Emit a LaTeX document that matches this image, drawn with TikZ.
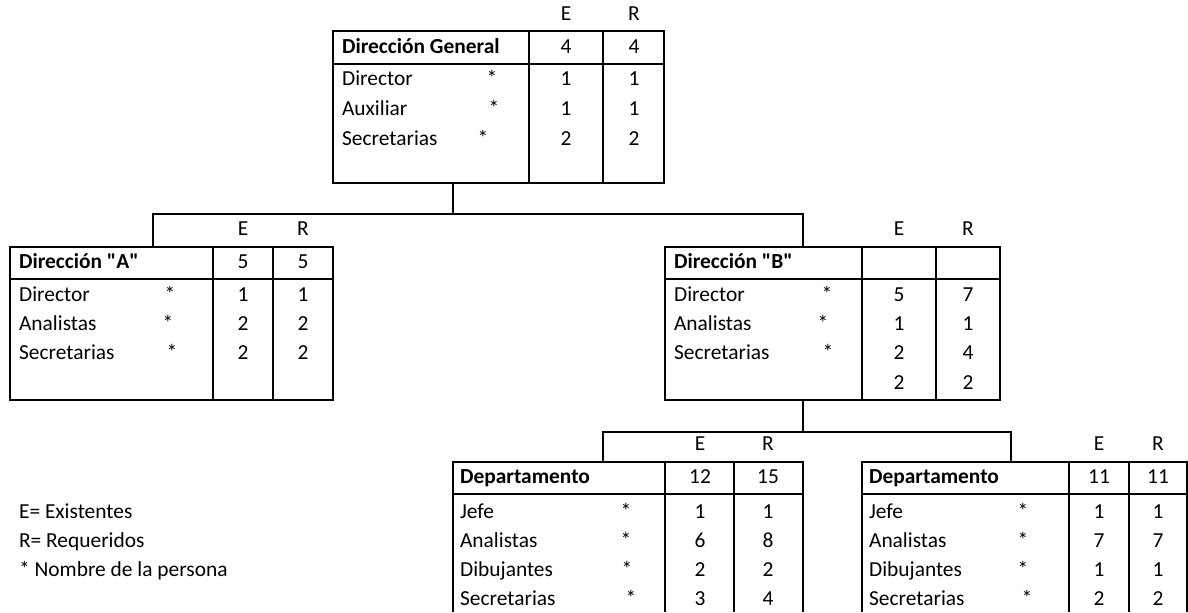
\documentclass[tikz,border=0pt]{standalone}
\usepackage{fontspec}
\setmainfont{Carlito}
\usetikzlibrary{positioning}

\begin{document}
\begin{tikzpicture}[x=0.5pt,y=-0.5pt,line width=1.1pt,
	font=\fontsize{10.7}{12.8}\selectfont,
	txt/.style={anchor=west,inner sep=0pt,text height=7pt,text depth=1.7pt},
	num/.style={inner sep=0pt,text height=7pt,text depth=1.7pt},
	tit/.style={txt,font=\fontsize{10.7}{12.8}\selectfont\bfseries}]
\useasboundingbox (0,0) rectangle (1188,612);

		% Direccion General
		\draw (333,31) rectangle (664,183);
		\draw (333,64) -- (664,64);
		\draw (529,31) -- (529,183);
		\draw (603,31) -- (603,183);
		\node[tit] (g-tit) at (341,48) {Dirección General};
		\node[num] (g-e0) at (566,48) {4};
		\node[num] (g-r0) at (634,48) {4};
		\node[num] (g-E) [above=6.8pt of g-e0] {E};
		\node[num] (g-R) [above=6.8pt of g-r0] {R};
		\node[txt] (g-n1) at (341,80) {Director};
		\node[num] (g-s1) at (492,80) {*};
		\node[num] (g-e1) at (566,80) {1};
		\node[num] (g-r1) at (634,80) {1};
		\node[txt] (g-n2) at (341,110) {Auxiliar};
		\node[num] (g-s2) at (494,110) {*};
		\node[num] (g-e2) at (566,110) {1};
		\node[num] (g-r2) at (634,110) {1};
		\node[txt] (g-n3) at (341,140) {Secretarias};
		\node[num] (g-s3) at (483,140) {*};
		\node[num] (g-e3) at (566,140) {2};
		\node[num] (g-r3) at (634,140) {2};
		
		% Direccion A
		\draw (10,247) rectangle (333,400);
		\draw (10,279) -- (333,279);
		\draw (213,247) -- (213,400);
		\draw (273,247) -- (273,400);
		\node[tit] (a-tit) at (18,263) {Dirección \textquotedbl A\textquotedbl};
		\node[num] (a-e0) at (243,263) {5};
		\node[num] (a-r0) at (303,263) {5};
		\node[num] (a-E) [above=6.8pt of a-e0] {E};
		\node[num] (a-R) [above=6.8pt of a-r0] {R};
		\node[txt] (a-n1) at (18,296) {Director};
		\node[num] (a-s1) at (170,296) {*};
		\node[num] (a-e1) at (243,296) {1};
		\node[num] (a-r1) at (303,296) {1};
		\node[txt] (a-n2) at (18,325) {Analistas};
		\node[num] (a-s2) at (168,325) {*};
		\node[num] (a-e2) at (243,325) {2};
		\node[num] (a-r2) at (303,325) {2};
		\node[txt] (a-n3) at (18,354) {Secretarias};
		\node[num] (a-s3) at (172,354) {*};
		\node[num] (a-e3) at (243,354) {2};
		\node[num] (a-r3) at (303,354) {2};
		
		% Direccion B
		\draw (665,247) rectangle (1000,400);
		\draw (665,279) -- (1000,279);
		\draw (862,247) -- (862,400);
		\draw (936,247) -- (936,400);
		\node[tit] (b-tit) at (673,263) {Dirección \textquotedbl B\textquotedbl};
		\node[num] (b-e0) at (899,263) {};
		\node[num] (b-r0) at (968,263) {};
		\node[num] (b-E) [above=6.8pt of b-e0] {E};
		\node[num] (b-R) [above=6.8pt of b-r0] {R};
		\node[txt] (b-n1) at (673,296) {Director};
		\node[num] (b-s1) at (827,296) {*};
		\node[num] (b-e1) at (899,296) {5};
		\node[num] (b-r1) at (968,296) {7};
		\node[txt] (b-n2) at (673,325) {Analistas};
		\node[num] (b-s2) at (823,325) {*};
		\node[num] (b-e2) at (899,325) {1};
		\node[num] (b-r2) at (968,325) {1};
		\node[txt] (b-n3) at (673,354) {Secretarias};
		\node[num] (b-s3) at (828,354) {*};
		\node[num] (b-e3) at (899,354) {2};
		\node[num] (b-r3) at (968,354) {4};
		\node[num] (b-e4) at (899,384) {2};
		\node[num] (b-r4) at (968,384) {2};
		
		% Departamento (izq)
		\draw (453,612) |- (803,462) -- (803,612);
		\draw (453,494) -- (803,494);
		\draw (665,462) -- (665,612);
		\draw (734,462) -- (734,612);
		\node[tit] (d-tit) at (459,478) {Departamento};
		\node[num] (d-e0) at (700,478) {12};
		\node[num] (d-r0) at (768,478) {15};
		\node[num] (d-E) [above=6.8pt of d-e0] {E};
		\node[num] (d-R) [above=6.8pt of d-r0] {R};
		\node[txt] (d-n1) at (459,513) {Jefe};
		\node[num] (d-s1) at (626,513) {*};
		\node[num] (d-e1) at (700,513) {1};
		\node[num] (d-r1) at (768,513) {1};
		\node[txt] (d-n2) at (459,542) {Analistas};
		\node[num] (d-s2) at (626,542) {*};
		\node[num] (d-e2) at (700,542) {6};
		\node[num] (d-r2) at (768,542) {8};
		\node[txt] (d-n3) at (459,571) {Dibujantes};
		\node[num] (d-s3) at (627,571) {*};
		\node[num] (d-e3) at (700,571) {2};
		\node[num] (d-r3) at (768,571) {2};
		\node[txt] (d-n4) at (459,600) {Secretarias};
		\node[num] (d-s4) at (631,600) {*};
		\node[num] (d-e4) at (700,600) {3};
		\node[num] (d-r4) at (768,600) {4};
		
		% Departamento (der)
		\draw (862,612) |- (1187,462) -- (1187,612);
		\draw (862,494) -- (1187,494);
		\draw (1069,462) -- (1069,612);
		\draw (1129,462) -- (1129,612);
		\node[tit] (f-tit) at (868,478) {Departamento};
		\node[num] (f-e0) at (1099,478) {11};
		\node[num] (f-r0) at (1158,478) {11};
		\node[num] (f-E) [above=6.8pt of f-e0] {E};
		\node[num] (f-R) [above=6.8pt of f-r0] {R};
		\node[txt] (f-n1) at (868,513) {Jefe};
		\node[num] (f-s1) at (1023,513) {*};
		\node[num] (f-e1) at (1099,513) {1};
		\node[num] (f-r1) at (1158,513) {1};
		\node[txt] (f-n2) at (868,542) {Analistas};
		\node[num] (f-s2) at (1023,542) {*};
		\node[num] (f-e2) at (1099,542) {7};
		\node[num] (f-r2) at (1158,542) {7};
		\node[txt] (f-n3) at (868,571) {Dibujantes};
		\node[num] (f-s3) at (1023,571) {*};
		\node[num] (f-e3) at (1099,571) {1};
		\node[num] (f-r3) at (1158,571) {1};
		\node[txt] (f-n4) at (868,600) {Secretarias};
		\node[num] (f-s4) at (1027,600) {*};
		\node[num] (f-e4) at (1099,600) {2};
		\node[num] (f-r4) at (1158,600) {2};
		
		% conectores
		\coordinate (g-pie) at (453,183);
		\coordinate (g-barra) at (453,214);
		\coordinate (a-sup) at (153,247);
		\coordinate (b-sup) at (803,247);
		\draw (g-pie) -- (g-barra);
		\draw (a-sup) |- (g-barra) -| (b-sup);
		
		\coordinate (b-pie) at (803,400);
		\coordinate (b-barra) at (803,432);
		\coordinate (d-sup) at (603,462);
		\coordinate (f-sup) at (1011,462);
		\draw (b-pie) -- (b-barra);
		\draw (d-sup) |- (b-barra) -| (f-sup);
		
		% leyenda
		\node[txt] (ley1) at (18,513) {E= Existentes};
		\node[txt] (ley2) at (18,542) {R= Requeridos};
		\node[txt] (ley3) at (18,571) {* Nombre de la persona};
		
\end{tikzpicture}
\end{document}
